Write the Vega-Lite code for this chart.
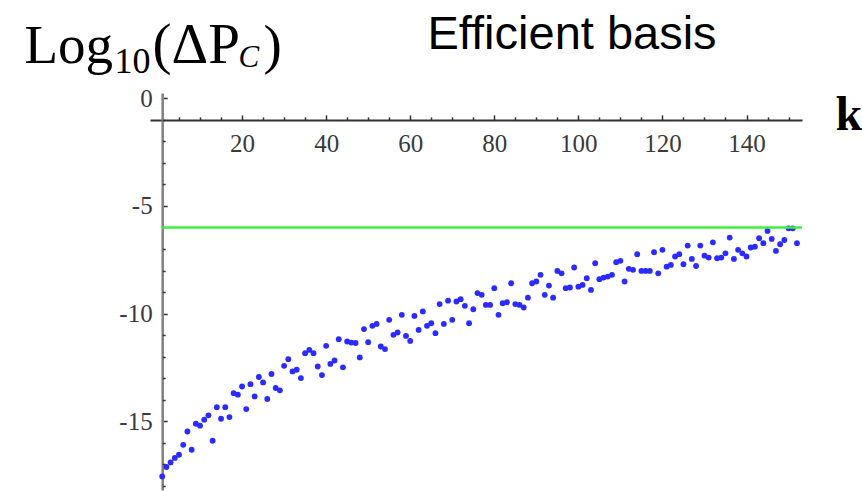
{
  "$schema": "https://vega.github.io/schema/vega-lite/v6.json",
  "width": 652,
  "height": 397,
  "autosize": {"type": "none"},
  "padding": {"left": 150, "top": 93, "right": 60, "bottom": 2},
  "background": "white",
  "config": {
    "view": {"stroke": null},
    "axis": {
      "grid": false,
      "labelFont": "Liberation Serif",
      "titleFont": "Liberation Serif",
      "titleFontWeight": "normal",
      "titleColor": "#000000",
      "titleAngle": 0,
      "titleAlign": "left",
      "titleBaseline": "alphabetic",
      "labelFlush": false,
      "labelOverlap": false,
      "labelBound": false
    }
  },
  "datasets": {
    "points": [
      {"k":1,"v":-17.57},{"k":2,"v":-17.13},{"k":3,"v":-16.92},{"k":4,"v":-16.71},{"k":5,"v":-16.56},
      {"k":6,"v":-16.1},{"k":7,"v":-15.48},{"k":8,"v":-16.33},{"k":9,"v":-15.12},{"k":10,"v":-15.21},
      {"k":11,"v":-14.93},{"k":12,"v":-14.73},{"k":13,"v":-15.91},{"k":14,"v":-14.35},{"k":15,"v":-14.89},
      {"k":16,"v":-14.35},{"k":17,"v":-14.81},{"k":18,"v":-13.7},{"k":19,"v":-13.77},{"k":20,"v":-13.39},
      {"k":21,"v":-14.44},{"k":22,"v":-13.28},{"k":23,"v":-13.85},{"k":24,"v":-12.95},{"k":25,"v":-13.2},
      {"k":26,"v":-13.97},{"k":27,"v":-12.81},{"k":28,"v":-13.46},{"k":29,"v":-13.57},{"k":30,"v":-12.43},
      {"k":31,"v":-12.12},{"k":32,"v":-12.69},{"k":33,"v":-12.61},{"k":34,"v":-13.0},{"k":35,"v":-11.84},
      {"k":36,"v":-11.69},{"k":37,"v":-11.84},{"k":38,"v":-12.46},{"k":39,"v":-12.86},{"k":40,"v":-11.5},
      {"k":41,"v":-12.34},{"k":42,"v":-12.18},{"k":43,"v":-11.19},{"k":44,"v":-12.5},{"k":45,"v":-11.3},
      {"k":46,"v":-11.35},{"k":47,"v":-11.37},{"k":48,"v":-12.04},{"k":49,"v":-10.72},{"k":50,"v":-11.33},
      {"k":51,"v":-10.57},{"k":52,"v":-10.48},{"k":53,"v":-11.53},{"k":54,"v":-11.65},{"k":55,"v":-10.29},
      {"k":56,"v":-10.99},{"k":57,"v":-10.88},{"k":58,"v":-10.06},{"k":59,"v":-11.04},{"k":60,"v":-11.27},
      {"k":61,"v":-10.11},{"k":62,"v":-10.76},{"k":63,"v":-9.9},{"k":64,"v":-10.57},{"k":65,"v":-10.45},
      {"k":66,"v":-10.91},{"k":67,"v":-9.56},{"k":68,"v":-10.48},{"k":69,"v":-9.4},{"k":70,"v":-10.29},
      {"k":71,"v":-9.44},{"k":72,"v":-9.33},{"k":73,"v":-9.64},{"k":74,"v":-10.45},{"k":75,"v":-9.8},
      {"k":76,"v":-9.05},{"k":77,"v":-9.13},{"k":78,"v":-9.6},{"k":79,"v":-9.6},{"k":80,"v":-8.82},
      {"k":81,"v":-10.06},{"k":82,"v":-9.52},{"k":83,"v":-9.47},{"k":84,"v":-8.59},{"k":85,"v":-9.56},
      {"k":86,"v":-9.6},{"k":87,"v":-9.72},{"k":88,"v":-9.26},{"k":89,"v":-8.59},{"k":90,"v":-8.51},
      {"k":91,"v":-8.2},{"k":92,"v":-9.13},{"k":93,"v":-8.7},{"k":94,"v":-9.26},{"k":95,"v":-8.02},
      {"k":96,"v":-8.13},{"k":97,"v":-8.82},{"k":98,"v":-8.79},{"k":99,"v":-7.86},{"k":100,"v":-8.75},
      {"k":101,"v":-8.67},{"k":102,"v":-8.36},{"k":103,"v":-8.9},{"k":104,"v":-7.66},{"k":105,"v":-8.4},
      {"k":106,"v":-8.33},{"k":107,"v":-8.28},{"k":108,"v":-8.2},{"k":109,"v":-7.61},{"k":110,"v":-7.55},
      {"k":111,"v":-8.51},{"k":112,"v":-7.92},{"k":113,"v":-7.97},{"k":114,"v":-7.24},{"k":115,"v":-8.02},
      {"k":116,"v":-8.02},{"k":117,"v":-8.02},{"k":118,"v":-7.15},{"k":119,"v":-8.13},{"k":120,"v":-7.04},
      {"k":121,"v":-7.82},{"k":122,"v":-7.74},{"k":123,"v":-7.35},{"k":124,"v":-7.24},{"k":125,"v":-7.71},
      {"k":126,"v":-6.84},{"k":127,"v":-7.46},{"k":128,"v":-7.79},{"k":129,"v":-6.84},{"k":130,"v":-7.31},
      {"k":131,"v":-7.4},{"k":132,"v":-6.69},{"k":133,"v":-7.43},{"k":134,"v":-7.4},{"k":135,"v":-7.2},
      {"k":136,"v":-6.47},{"k":137,"v":-7.46},{"k":138,"v":-7.04},{"k":139,"v":-7.2},{"k":140,"v":-7.35},
      {"k":141,"v":-6.93},{"k":142,"v":-6.89},{"k":143,"v":-6.5},{"k":144,"v":-6.73},{"k":145,"v":-6.16},
      {"k":146,"v":-6.53},{"k":147,"v":-7.09},{"k":148,"v":-6.78},{"k":149,"v":-6.58},{"k":150,"v":-6.04},
      {"k":151,"v":-6.04},{"k":152,"v":-6.73}
    ],
    "threshold": [{"level": -6, "from": 1, "to": 153.2}]
  },
  "layer": [
    {
      "data": {"name": "points"},
      "mark": {"type": "point", "filled": true, "size": 34, "color": "#2b2bff", "opacity": 1, "strokeWidth": 0},
      "encoding": {
        "x": {
          "field": "k", "type": "quantitative",
          "scale": {"domain": [-1.9, 153.2], "nice": false, "zero": false},
          "axis": {
            "orient": "top", "offset": -26.9,
            "values": [20, 40, 60, 80, 100, 120, 140],
            "tickSize": 5, "tickWidth": 1.5, "tickColor": "#333333",
            "domainColor": "#333333", "domainWidth": 2,
            "labelFontSize": 25, "labelColor": "#3a3a3a",
            "labelBaseline": "top", "labelPadding": -17,
            "labelExpr": "'' + datum.value",
            "title": "k", "titleFontSize": 48, "titleFontWeight": "bold", "titleX": 685, "titleY": 10
          }
        },
        "y": {
          "field": "v", "type": "quantitative",
          "scale": {"domain": [-18.2, 0.25], "nice": false, "zero": false},
          "axis": {
            "orient": "left", "offset": -12.2,
            "values": [0, -5, -10, -15],
            "tickSize": -5, "tickWidth": 1.5, "tickColor": "#333333",
            "domainColor": "#808080", "domainWidth": 2.5,
            "labelFontSize": 25, "labelColor": "#3a3a3a",
            "labelAlign": "right", "labelBaseline": "middle", "labelPadding": 15,
            "labelExpr": "'' + datum.value",
            "title": "Log", "titleFontSize": 55, "titleX": -138.2, "titleY": -31
          }
        }
      }
    },
    {
      "data": {"name": "threshold"},
      "mark": {"type": "rule", "color": "#3ef03e", "strokeWidth": 2.5},
      "encoding": {
        "x": {
          "field": "from", "type": "quantitative",
          "scale": {"domain": [-1.9, 153.2], "nice": false, "zero": false},
          "axis": {
            "orient": "top", "offset": -26.9,
            "values": [5, 10, 15, 25, 30, 35, 45, 50, 55, 65, 70, 75, 85, 90, 95, 105, 110, 115, 125, 130, 135, 145, 150],
            "tickSize": 3, "tickWidth": 1.5, "tickColor": "#333333",
            "domain": false, "labels": false,
            "title": "10", "titleFontSize": 36, "titleX": -36, "titleY": -47.9
          }
        },
        "x2": {"field": "to"},
        "y": {
          "field": "level", "type": "quantitative",
          "scale": {"domain": [-18.2, 0.25], "nice": false, "zero": false},
          "axis": {
            "orient": "left", "offset": -12.2,
            "values": [-1, -2, -3, -4, -6, -7, -8, -9, -11, -12, -13, -14, -16, -17, -18],
            "tickSize": -3, "tickWidth": 1.5, "tickColor": "#333333",
            "domain": false, "labels": false,
            "title": "(ΔP", "titleFontSize": 57, "titleX": -10.2, "titleY": -31
          }
        }
      }
    },
    {
      "data": {"name": "threshold"},
      "mark": {"type": "rule", "opacity": 0},
      "encoding": {
        "x": {
          "field": "from", "type": "quantitative",
          "scale": {"domain": [-1.9, 153.2], "nice": false, "zero": false},
          "axis": {
            "orient": "top", "offset": 0,
            "domain": false, "ticks": false, "labels": false,
            "title": "C", "titleFontStyle": "italic", "titleFontSize": 31, "titleX": 88, "titleY": -27
          }
        },
        "x2": {"field": "to"},
        "y": {
          "field": "level", "type": "quantitative",
          "scale": {"domain": [-18.2, 0.25], "nice": false, "zero": false},
          "axis": {
            "orient": "left", "offset": 0,
            "domain": false, "ticks": false, "labels": false,
            "title": ")", "titleFontSize": 55, "titleX": 113, "titleY": -31
          }
        }
      }
    },
    {
      "data": {"name": "threshold"},
      "mark": {"type": "rule", "opacity": 0},
      "encoding": {
        "x": {
          "field": "from", "type": "quantitative",
          "scale": {"domain": [-1.9, 153.2], "nice": false, "zero": false},
          "axis": {
            "orient": "top", "offset": 0,
            "domain": false, "ticks": false, "labels": false,
            "title": "Efficient basis", "titleFont": "Liberation Sans", "titleFontSize": 47,
            "titleX": 277, "titleY": -45
          }
        },
        "x2": {"field": "to"},
        "y": {
          "field": "level", "type": "quantitative",
          "scale": {"domain": [-18.2, 0.25], "nice": false, "zero": false},
          "axis": null
        }
      }
    }
  ],
  "resolve": {"axis": {"x": "independent", "y": "independent"}}
}
